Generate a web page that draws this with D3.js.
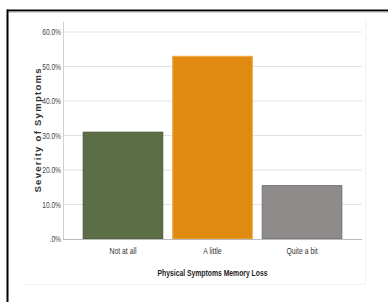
<!DOCTYPE html>
<html><head><meta charset="utf-8">
<script src="https://cdn.jsdelivr.net/npm/d3@7"></script>
<style>
html,body{margin:0;padding:0;background:#fff;}
svg{display:block;}
</style></head>
<body>
<script>
const categories = ["Not at all", "A little", "Quite a bit"];
const values = [31.1, 53.1, 15.6];
const colors = ["#5b6e46", "#e08a12", "#8f8b8a"];
const strokes = ["#4b5a3b", "#f0a840", "#707070"];
const yTicks = [0, 10, 20, 30, 40, 50, 60];
const yTickLabels = [".0%", "10.0%", "20.0%", "30.0%", "40.0%", "50.0%", "60.0%"];
const xTitle = "Physical Symptoms Memory Loss";
const yTitle = "Severity of Symptoms";

(function(){
const W = 388, H = 302;
const FONT = "Liberation Sans, Arial, sans-serif";
const svg = d3.select("body").append("svg").attr("width", W).attr("height", H);

function condenseTo(sel, width) {
  sel.attr("textLength", width).attr("lengthAdjust", "spacingAndGlyphs");
}
function condense(sel, f) {
  sel.each(function() {
    const l = this.getComputedTextLength();
    d3.select(this).attr("textLength", l * f).attr("lengthAdjust", "spacingAndGlyphs");
  });
}

// outer frame
svg.append("line").attr("x1", 7).attr("x2", W).attr("y1", 10.5).attr("y2", 10.5)
  .attr("stroke", "#000").attr("stroke-width", 2);
svg.append("line").attr("x1", 7).attr("x2", W).attr("y1", 12).attr("y2", 12)
  .attr("stroke", "#aaa").attr("stroke-width", 1);
svg.append("line").attr("x1", 7.5).attr("x2", 7.5).attr("y1", 9.5).attr("y2", H)
  .attr("stroke", "#000").attr("stroke-width", 2);

// faint chart region border
svg.append("path").attr("d", "M365.5,20 V284.5 H25").attr("fill", "none")
  .attr("stroke", "#f2f2f2").attr("stroke-width", 1);

const pl = 63, pr = 362, pt = 32, pb = 239;
const y = d3.scaleLinear().domain([0, 60]).range([pb, pt]);
const x = d3.scaleBand().domain(categories).range([pl, pr])
  .paddingInner(0.1).paddingOuter(0.22);

// gridlines
svg.append("g").selectAll("line").data(yTicks.filter(d => d > 0)).join("line")
  .attr("x1", pl).attr("x2", pr)
  .attr("y1", d => y(d)).attr("y2", d => y(d))
  .attr("stroke", "#e3e3e3").attr("stroke-width", 1.2);

// y axis line
svg.append("line").attr("x1", pl + 0.5).attr("x2", pl + 0.5)
  .attr("y1", 22).attr("y2", pb).attr("stroke", "#d0d0d0").attr("stroke-width", 1);

// y axis
const yAxis = d3.axisLeft(y).tickValues(yTicks)
  .tickFormat((d, i) => yTickLabels[i]).tickSize(0).tickPadding(2);
const gy = svg.append("g").attr("transform", `translate(${pl},0)`).call(yAxis);
gy.select(".domain").remove();
gy.selectAll("text").attr("font-size", 9.2).attr("fill", "#444").attr("font-family", FONT);
condense(gy.selectAll("text"), 0.72);

// bars
svg.append("g").selectAll("rect").data(values).join("rect")
  .attr("x", (d, i) => x(categories[i]) + 0.5)
  .attr("y", d => y(d) + 0.5)
  .attr("width", x.bandwidth() - 1)
  .attr("height", d => pb - y(d) - 0.5)
  .attr("fill", (d, i) => colors[i])
  .attr("stroke", (d, i) => strokes[i]).attr("stroke-width", 1);

// x baseline
svg.append("line").attr("x1", pl).attr("x2", pr)
  .attr("y1", pb + 0.5).attr("y2", pb + 0.5).attr("stroke", "#bbb");

// x axis
const xAxis = d3.axisBottom(x).tickSize(0).tickPadding(8);
const gx = svg.append("g").attr("transform", `translate(0,${pb})`).call(xAxis);
gx.select(".domain").remove();
gx.selectAll("text").attr("font-size", 9.8).attr("fill", "#333").attr("font-family", FONT);
condense(gx.selectAll("text"), 0.7);

// titles
const xt = svg.append("text").attr("x", (pl + pr) / 2).attr("y", 275.5)
  .attr("text-anchor", "middle").attr("font-size", 9.8).attr("font-weight", "bold")
  .attr("font-family", FONT).attr("fill", "#222").text(xTitle);
condenseTo(xt, 110);
const yt = svg.append("text").attr("transform", `translate(41,${(22 + pb) / 2}) rotate(-90)`)
  .attr("text-anchor", "middle").attr("font-family", FONT)
  .attr("font-size", 9.5).attr("font-weight", "bold").attr("fill", "#333").text(yTitle);
yt.attr("textLength", 124).attr("lengthAdjust", "spacing");
})();
</script>
</body></html>
